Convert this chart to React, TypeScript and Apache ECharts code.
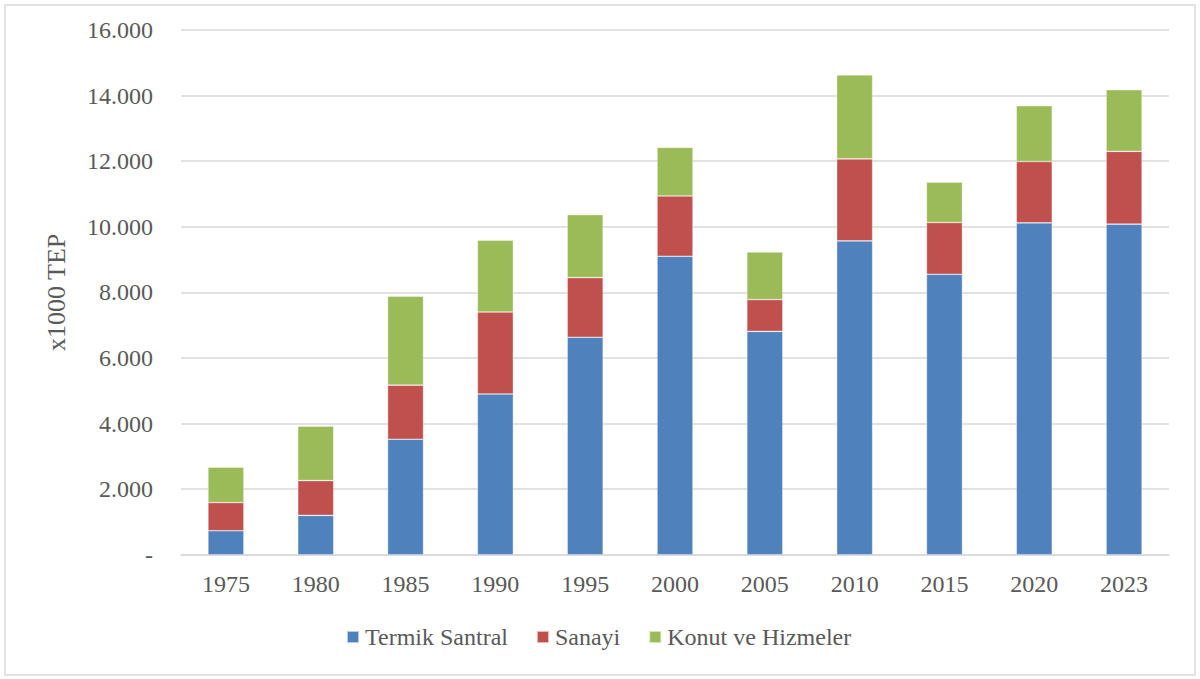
import React, { useEffect, useRef } from "react";
import * as echarts from "echarts";

const years = ["1975", "1980", "1985", "1990", "1995", "2000", "2005", "2010", "2015", "2020", "2023"];
const termikSantral = [730, 1200, 3520, 4900, 6630, 9100, 6810, 9570, 8550, 10120, 10080];
const sanayi = [860, 1060, 1650, 2500, 1820, 1840, 970, 2500, 1580, 1870, 2220];
const konutHizmeler = [1080, 1660, 2710, 2190, 1920, 1480, 1450, 2560, 1230, 1700, 1880];

const FONT = "Liberation Serif";
const TEXT = "#595959";

export default function App() {
  const ref = useRef<HTMLDivElement>(null);
  useEffect(() => {
    if (!ref.current) return;
    const chart = echarts.init(ref.current, null, { renderer: "svg" });
    const mk = (name: string, data: number[], color: string) => ({
      name,
      type: "bar",
      stack: "total",
      data,
      barWidth: "40%",
      itemStyle: { color, borderColor: "rgba(255,255,255,0.6)", borderWidth: 0.6 },
    });
    chart.setOption({
      animation: false,
      backgroundColor: "#fff",
      textStyle: { fontFamily: FONT },
      graphic: [
        {
          type: "rect",
          shape: { x: 5, y: 5, width: 1190, height: 670 },
          style: { fill: "none", stroke: "#d9d9d9", lineWidth: 1.5 },
          silent: true,
        },
      ],
      grid: { left: 181, right: 31, top: 30, bottom: 124.3, containLabel: false },
      legend: {
        bottom: 25,
        left: 341,
        itemWidth: 12,
        itemHeight: 12,
        itemGap: 28,
        icon: "rect",
        textStyle: { fontFamily: FONT, fontSize: 24, color: TEXT, padding: [0, 0, 0, 1] },
        data: ["Termik Santral", "Sanayi", "Konut ve Hizmeler"],
      },
      xAxis: {
        type: "category",
        data: years,
        axisLine: { lineStyle: { color: "#d9d9d9", width: 1.5 } },
        axisTick: { show: false },
        axisLabel: { fontFamily: FONT, fontSize: 24, color: TEXT, margin: 17 },
      },
      yAxis: {
        type: "value",
        min: 0,
        max: 16000,
        interval: 2000,
        name: "x1000 TEP",
        nameLocation: "middle",
        nameRotate: 90,
        nameGap: 112,
        nameTextStyle: { fontFamily: FONT, fontSize: 26, color: TEXT },
        axisLine: { show: false },
        axisTick: { show: false },
        splitLine: { lineStyle: { color: "#d9d9d9", width: 1.5 } },
        axisLabel: {
          fontFamily: FONT,
          fontSize: 24,
          color: TEXT,
          margin: 28,
          formatter: (v: number) => (v === 0 ? "-" : v.toLocaleString("de-DE")),
        },
      },
      series: [
        mk("Termik Santral", termikSantral, "#4F81BD"),
        mk("Sanayi", sanayi, "#C0504D"),
        mk("Konut ve Hizmeler", konutHizmeler, "#9BBB59"),
      ],
    });
    return () => chart.dispose();
  }, []);
  return <div ref={ref} style={{ position: "fixed", left: 0, top: 0, width: 1200, height: 679 }} />;
}
